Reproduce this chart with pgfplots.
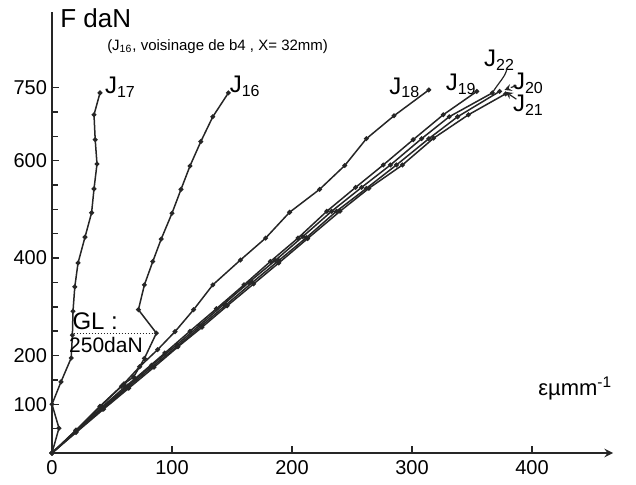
\documentclass[border=0pt]{standalone}
\usepackage{fontspec}
\setmainfont{Liberation Sans}
\usepackage{pgfplots}
\pgfplotsset{compat=1.18}
\tikzset{jcurve/.style={black!85, solid, line width=0.75pt, mark=*, mark size=0.8pt, mark options={solid, fill=black!85}}}
\begin{document}
\begin{tikzpicture}
\useasboundingbox (-26pt,-16pt) rectangle (292pt,226.5pt);
\begin{axis}[
  at={(0pt,0pt)}, anchor=south west,
  scale only axis, width=280.5pt, height=220.5pt,
  xmin=0, xmax=467.5, ymin=0, ymax=905,
  axis lines=left,
  axis line style={line width=0.9pt, color=black!85},
  x axis line style={-stealth},
  y axis line style={-},
  xtick={0,100,200,300,400},
  ytick={100,200,400,600,750},
  minor ytick={50,150,250,300,350,450,500,550,650,700},
  tick align=inside, major tick length=3.5pt, minor tick length=3pt,
  tick style={line width=0.7pt, color=black!85},
  ticklabel style={font=\fontsize{10}{11}\selectfont},
  yticklabel style={xshift=1pt},
  /pgf/number format/assume math mode=true,
  clip=false,
]
% J17
\addplot[jcurve] coordinates {(0,0)(5.8,51)(0,100)(7.5,146)(16,195)(17,242)(17.5,291)(19,341)(21.7,390)(27.5,443)(33,493)(35,542)(37.5,593)(36,643)(35,694)(40,739)};
% J16
\addplot[jcurve] coordinates {(0,0)(20,47)(40,96)(60,142)(68,156)(77,194)(87,246)(72,294)(77,345)(84,393)(91,439)(100,492)(107.5,541)(115,589)(124,639)(134,690)(147,739)};
% J18
\addplot[jcurve] coordinates {(0,0)(20,46)(40,95)(58,137)(73,177)(88,212)(102.5,249)(118,294)(134,345)(157,396)(178,441)(198,494)(223,541)(244,590)(262,645)(285,692)(314,745)};
% J19
\addplot[jcurve] coordinates {(0,0)(20,46)(42,95)(61,136)(69,152)(94,205)(115,250)(137,296)(160,345)(182,393)(205,441)(229,496)(253,545)(276,591)(301,643)(326,694)(354,742)};
% J22
\addplot[jcurve] coordinates {(0,0)(20,44)(42,92)(63,137)(83,180)(104,222)(123,262)(143,305)(164,350)(186,395)(209,444)(233,496)(258,545)(282,591)(308,645)(331,690)(367,739)};
% J20
\addplot[jcurve] coordinates {(0,0)(20,43)(42,90)(63,134)(83,176)(104,218)(124,260)(145,304)(167,350)(189,395)(212,442)(237,496)(262,543)(287,591)(314,645)(338,690)(373,742)};
% J21
\addplot[jcurve] coordinates {(0,0)(20,42)(43,90)(64,133)(85,176)(105,218)(125,258)(146,302)(168,347)(189,390)(213,440)(240,496)(264,543)(292,591)(318,646)(347,694)(378,737)};

\node[anchor=west, font=\fontsize{13}{14}\selectfont] at (axis cs:1,893) {F daN};
\node[font=\fontsize{7.5}{9}\selectfont] at (axis cs:138,834) {(J\textsubscript{16}, voisinage de b4 , X= 32mm)};
\node[font=\fontsize{12}{13}\selectfont] at (axis cs:57,750) {J\textsubscript{17}};
\node[font=\fontsize{12}{13}\selectfont] at (axis cs:161,752) {J\textsubscript{16}};
\node[font=\fontsize{12}{13}\selectfont] at (axis cs:294,749) {J\textsubscript{18}};
\node[font=\fontsize{12}{13}\selectfont] at (axis cs:341,756) {J\textsubscript{19}};
\node[font=\fontsize{12}{13}\selectfont] at (axis cs:373,806) {J\textsubscript{22}};
\node[font=\fontsize{12}{13}\selectfont] at (axis cs:397,758) {J\textsubscript{20}};
\node[font=\fontsize{12}{13}\selectfont] at (axis cs:397,714) {J\textsubscript{21}};
\draw[line width=0.6pt, black!85] (axis cs:367,739) .. controls (axis cs:372,760) and (axis cs:379,775) .. (axis cs:379,790);
\draw[line width=0.6pt, black!85, dashed, -stealth] (axis cs:387,754) -- (axis cs:377,745);
\draw[line width=0.6pt, black!85, -stealth] (axis cs:387,726) -- (axis cs:378,741);
\node[font=\fontsize{12}{13}\selectfont] at (axis cs:36,271) {GL :};
\draw[line width=0.5pt, black!85, densely dotted] (axis cs:18,246) -- (axis cs:87,246);
\node[font=\fontsize{10.5}{11}\selectfont] at (axis cs:45,222) {250daN};
\node[font=\fontsize{11}{12}\selectfont] at (axis cs:436,133) {εµmm\textsuperscript{-1}};
\end{axis}
\end{tikzpicture}
\end{document}
